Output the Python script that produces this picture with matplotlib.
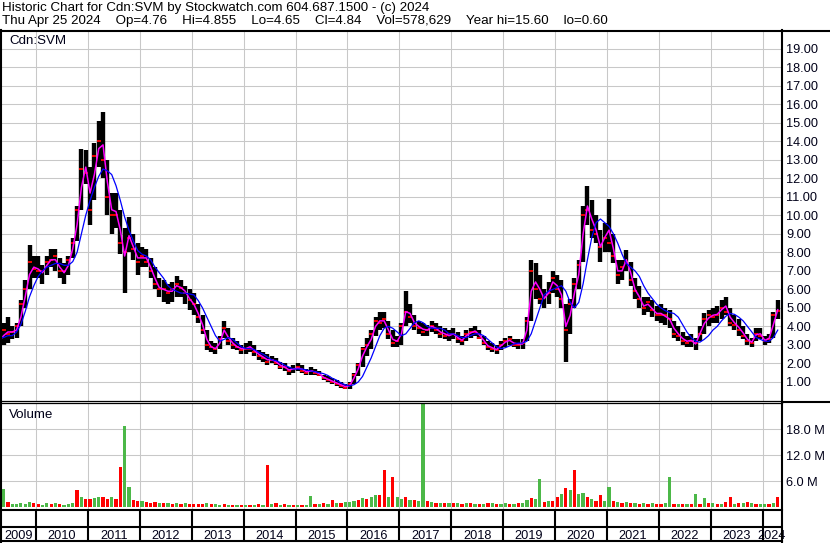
import matplotlib
matplotlib.use('Agg')
import matplotlib.pyplot as plt
import numpy as np

W, H, DPI = 830, 543, 100
plt.rcParams['font.family'] = ['Liberation Sans', 'DejaVu Sans']
TXT = '#000018'
FS = 9.2
FS_HEAD = 9.65

header1 = "Historic Chart for Cdn:SVM by Stockwatch.com 604.687.1500 - (c) 2024"
header2 = ("Thu Apr 25 2024    Op=4.76    Hi=4.855    Lo=4.65    Cl=4.84    "
           "Vol=578,629    Year hi=15.60    lo=0.60")
symbol = "Cdn:SVM"
vol_title = "Volume"

first_year, first_month = 2009, 4          # monthly bars from April 2009
years = list(range(2009, 2025))
price_ticks = list(range(1, 20))
vol_ticks = [6, 12, 18]                    # millions

low = [
    2.7, 3.0, 3.1, 3.3, 3.4, 4.0, 5.0, 6.0, 6.6,                       # 2009
    6.6, 6.3, 6.8, 7.2, 7.0, 6.6, 6.3, 6.8, 7.7, 8.6, 10.3, 11.7,      # 2010
    9.5, 10.8, 12.6, 12.0, 10.0, 9.0, 9.3, 7.9, 5.8, 8.0, 7.6, 6.8,    # 2011
    7.2, 7.2, 6.6, 6.0, 5.6, 5.3, 5.2, 5.3, 5.6, 5.6, 5.2, 4.9,        # 2012
    4.6, 4.2, 3.6, 2.7, 2.6, 2.5, 2.8, 3.4, 3.0, 2.8, 2.7, 2.5,        # 2013
    2.5, 2.6, 2.4, 2.2, 2.1, 1.9, 2.0, 1.9, 1.7, 1.6, 1.4, 1.5,        # 2014
    1.6, 1.5, 1.4, 1.4, 1.4, 1.3, 1.1, 1.0, 0.9, 0.8, 0.7, 0.6,        # 2015
    0.6, 0.9, 1.3, 1.8, 2.4, 2.8, 3.5, 3.8, 3.9, 3.3, 2.9, 2.9,        # 2016
    3.0, 4.0, 4.2, 3.8, 3.6, 3.5, 3.5, 3.7, 3.6, 3.4, 3.3, 3.2,        # 2017
    3.3, 3.1, 3.0, 3.2, 3.4, 3.5, 3.3, 3.0, 2.7, 2.6, 2.5, 2.7,        # 2018
    2.9, 3.0, 2.9, 2.8, 2.8, 3.2, 4.3, 5.5, 5.2, 5.0, 5.2, 5.8,        # 2019
    5.6, 5.0, 2.1, 3.6, 5.0, 6.0, 7.5, 9.5, 8.8, 8.5, 7.5, 8.0,        # 2020
    8.0, 7.4, 6.3, 6.5, 7.0, 6.2, 5.5, 5.0, 4.6, 4.8, 4.5, 4.3,        # 2021
    4.2, 4.1, 3.9, 3.4, 3.2, 3.0, 2.9, 2.9, 2.7, 3.2, 3.6, 4.0,        # 2022
    4.2, 4.2, 4.4, 4.6, 4.0, 3.8, 3.5, 3.3, 3.0, 2.9, 3.2, 3.3,        # 2023
    3.0, 3.1, 3.4, 4.4,                                                # 2024
]
high = [
    3.5, 4.2, 4.5, 4.0, 4.2, 5.4, 6.5, 8.4, 7.8,
    7.8, 7.3, 7.8, 8.2, 8.2, 7.7, 7.4, 7.8, 8.8, 10.5, 13.6, 13.5,
    12.6, 13.9, 15.1, 15.6, 13.0, 11.2, 11.2, 10.3, 9.3, 9.9, 9.0, 8.5,
    8.3, 8.2, 7.7, 7.2, 6.6, 6.5, 6.3, 6.4, 6.7, 6.5, 6.2, 6.0,
    5.8, 5.2, 4.6, 3.8, 3.2, 3.1, 3.5, 4.3, 3.9, 3.4, 3.2, 3.0,
    3.1, 3.2, 3.0, 2.7, 2.6, 2.5, 2.4, 2.3, 2.1, 2.0, 1.8, 1.9,
    2.0, 1.9, 1.7, 1.8, 1.7, 1.6, 1.4, 1.3, 1.2, 1.1, 1.0, 0.9,
    1.0, 1.5, 2.0, 2.9, 3.4, 3.8, 4.5, 4.8, 4.8, 4.3, 3.8, 3.5,
    4.2, 5.9, 5.2, 4.6, 4.3, 4.2, 4.1, 4.3, 4.2, 4.0, 3.9, 3.8,
    3.9, 3.7, 3.5, 3.8, 3.9, 4.0, 3.8, 3.5, 3.2, 3.1, 3.0, 3.2,
    3.4, 3.5, 3.3, 3.3, 3.3, 4.5, 7.6, 7.4, 6.8, 6.0, 6.4, 7.0,
    6.8, 6.5, 5.2, 5.5, 6.6, 7.6, 10.5, 11.6, 10.8, 10.0, 9.2, 9.6,
    10.9, 9.0, 7.6, 7.6, 8.1, 7.5, 6.6, 6.2, 5.6, 5.6, 5.4, 5.1,
    5.2, 5.0, 4.9, 4.3, 4.0, 3.7, 3.5, 3.6, 3.4, 4.0, 4.7, 4.9,
    5.0, 5.1, 5.4, 5.6, 5.0, 4.6, 4.4, 4.0, 3.6, 3.4, 3.9, 3.9,
    3.5, 3.6, 4.8, 5.4,
]
close = [
    3.2, 3.8, 3.6, 3.7, 4.0, 5.2, 6.0, 7.5, 7.1,
    7.0, 7.0, 7.5, 7.6, 7.8, 7.0, 7.0, 7.6, 8.5, 10.3, 12.5, 12.3,
    10.3, 13.2, 14.0, 13.0, 11.0, 10.0, 10.0, 8.5, 8.0, 8.8, 8.2, 7.5,
    7.8, 7.5, 7.0, 6.3, 6.0, 6.0, 5.8, 6.0, 6.3, 6.1, 5.8, 5.4,
    5.2, 4.5, 3.8, 3.0, 2.9, 2.8, 3.3, 3.9, 3.2, 3.0, 2.9, 2.7,
    2.8, 2.8, 2.6, 2.4, 2.3, 2.1, 2.2, 2.0, 1.8, 1.8, 1.6, 1.7,
    1.8, 1.6, 1.5, 1.6, 1.5, 1.4, 1.2, 1.1, 1.0, 0.9, 0.8, 0.7,
    0.9, 1.4, 1.9, 2.8, 3.0, 3.6, 4.3, 4.2, 4.4, 3.6, 3.1, 3.2,
    4.0, 4.8, 4.5, 4.0, 3.9, 3.7, 3.8, 4.0, 3.8, 3.6, 3.5, 3.6,
    3.6, 3.3, 3.2, 3.6, 3.7, 3.7, 3.4, 3.1, 2.9, 2.8, 2.7, 3.0,
    3.2, 3.3, 3.0, 3.0, 3.1, 4.3, 7.0, 6.0, 5.5, 5.6, 5.8, 6.6,
    6.0, 5.5, 3.8, 5.2, 6.3, 7.3, 10.0, 10.3, 9.2, 9.0, 8.3, 8.8,
    8.5, 7.8, 6.8, 7.2, 7.5, 6.5, 5.9, 5.5, 5.0, 5.3, 4.9, 4.6,
    4.6, 4.6, 4.4, 3.6, 3.5, 3.2, 3.1, 3.2, 3.1, 3.6, 4.4, 4.6,
    4.5, 4.6, 5.0, 4.8, 4.2, 4.1, 3.8, 3.5, 3.2, 3.1, 3.6, 3.5,
    3.2, 3.3, 4.6, 4.84,
]
ma_fast = [
    3.2, 3.5, 3.7, 3.7, 3.8, 4.5, 5.6, 6.8, 7.2,
    7.1, 6.9, 7.3, 7.6, 7.6, 7.2, 6.9, 7.3, 8.2, 9.5, 11.5, 12.6,
    11.2, 12.2, 13.6, 13.8, 11.8, 10.3, 10.2, 9.2, 7.8, 8.9, 8.3, 7.7,
    7.7, 7.7, 7.2, 6.6, 6.1, 6.0, 5.9, 5.9, 6.2, 6.1, 5.9, 5.5,
    5.2, 4.7, 4.1, 3.3, 2.9, 2.8, 3.1, 3.8, 3.4, 3.1, 2.9, 2.8,
    2.8, 2.9, 2.7, 2.5, 2.35, 2.2, 2.2, 2.1, 1.9, 1.8, 1.65, 1.7,
    1.75, 1.7, 1.55, 1.6, 1.55, 1.45, 1.25, 1.15, 1.05, 0.95, 0.85, 0.75,
    0.8, 1.2, 1.7, 2.4, 2.9, 3.3, 4.0, 4.3, 4.3, 3.8, 3.3, 3.2,
    3.6, 4.8, 4.7, 4.2, 4.0, 3.85, 3.8, 4.0, 3.9, 3.7, 3.6, 3.5,
    3.6, 3.4, 3.25, 3.5, 3.65, 3.75, 3.55, 3.25, 2.95, 2.85, 2.75, 2.95,
    3.15, 3.25, 3.1, 3.05, 3.05, 3.8, 5.9, 6.4, 6.0, 5.5, 5.8, 6.4,
    6.2, 5.7, 4.0, 4.6, 5.8, 6.8, 9.0, 10.5, 9.8, 9.2, 8.3, 8.8,
    9.2, 8.2, 7.0, 7.0, 7.6, 6.9, 6.0, 5.6, 5.1, 5.2, 4.95, 4.7,
    4.7, 4.55, 4.4, 3.9, 3.6, 3.35, 3.2, 3.25, 3.05, 3.6, 4.15, 4.45,
    4.6, 4.65, 4.9, 5.1, 4.5, 4.2, 3.95, 3.65, 3.3, 3.15, 3.55, 3.6,
    3.25, 3.35, 4.1, 4.9,
]
ma_slow = [
    3.4, 3.4, 3.5, 3.5, 3.7, 4.1, 4.8, 5.6, 6.2,
    6.7, 7.0, 7.2, 7.3, 7.4, 7.4, 7.3, 7.3, 7.5, 8.0, 9.0, 10.0,
    10.8, 11.5, 12.1, 12.5, 12.4, 12.2, 11.6, 10.8, 9.9, 9.2, 8.6, 8.1,
    7.9, 7.8, 7.6, 7.2, 6.9, 6.6, 6.2, 6.0, 5.9, 5.8, 5.8, 5.75,
    5.7, 5.4, 5.0, 4.5, 4.0, 3.5, 3.2, 3.3, 3.4, 3.3, 3.1, 2.9,
    2.8, 2.8, 2.75, 2.6, 2.5, 2.35, 2.2, 2.15, 2.05, 1.9, 1.8, 1.7,
    1.7, 1.7, 1.65, 1.6, 1.55, 1.5, 1.45, 1.35, 1.2, 1.1, 0.95, 0.85,
    0.8, 0.85, 1.0, 1.3, 1.8, 2.3, 2.9, 3.5, 3.9, 4.0, 3.9, 3.7,
    3.5, 3.6, 3.9, 4.2, 4.3, 4.2, 4.0, 3.9, 3.9, 3.9, 3.8, 3.6,
    3.6, 3.5, 3.4, 3.4, 3.5, 3.6, 3.6, 3.5, 3.3, 3.1, 2.9, 2.8,
    2.85, 2.95, 3.05, 3.1, 3.1, 3.2, 3.6, 4.3, 5.0, 5.7, 5.9, 6.0,
    6.1, 6.2, 5.9, 5.3, 5.0, 5.3, 6.3, 7.6, 8.8, 9.6, 9.8, 9.6,
    9.4, 9.0, 8.5, 7.9, 7.4, 7.2, 7.0, 6.7, 6.2, 5.8, 5.5, 5.2,
    5.0, 4.85, 4.75, 4.7, 4.5, 4.1, 3.7, 3.4, 3.2, 3.15, 3.3, 3.5,
    3.8, 4.0, 4.3, 4.55, 4.7, 4.65, 4.5, 4.3, 4.0, 3.7, 3.4, 3.3,
    3.2, 3.2, 3.4, 3.8,
]
volume = [   # millions of shares
    1.0, 4.3, 1.2, 0.8, 0.7, 0.9, 0.8, 1.3, 0.9,
    0.8, 0.6, 0.9, 0.8, 1.0, 0.7, 0.6, 0.8, 1.0, 3.9, 2.3, 2.0,
    2.0, 2.2, 2.5, 2.3, 2.0, 2.5, 2.0, 9.4, 18.8, 4.8, 1.8, 1.5,
    1.5, 1.2, 1.1, 1.2, 1.0, 1.1, 0.9, 0.8, 1.0, 0.8, 0.9, 0.8,
    0.7, 0.8, 0.7, 1.0, 0.8, 0.7, 0.6, 0.7, 0.6, 0.6, 0.5, 0.5,
    0.5, 0.6, 0.5, 0.8, 0.6, 9.8, 0.7, 1.0, 0.6, 0.7, 0.6, 0.5,
    0.6, 0.5, 0.6, 2.7, 0.8, 0.7, 0.9, 0.8, 1.6, 1.0, 1.0, 1.2,
    1.3, 1.5, 1.8, 2.2, 2.0, 2.5, 2.8, 2.8, 8.5, 2.4, 7.1, 2.5,
    2.0, 2.5, 1.8, 1.6, 1.5, 24.5, 1.5, 1.2, 1.0, 1.0, 0.9, 1.0,
    1.0, 0.9, 0.8, 1.0, 0.9, 0.8, 0.8, 0.8, 0.9, 1.0, 0.8, 0.8,
    0.9, 0.8, 0.8, 0.9, 1.0, 1.6, 2.2, 2.0, 6.6, 1.2, 1.4, 1.5,
    2.5, 3.0, 4.5, 4.0, 8.5, 3.0, 3.2, 2.5, 2.0, 1.5, 2.8, 1.5,
    4.6, 1.5, 1.2, 1.0, 1.2, 1.0, 0.9, 0.8, 0.9, 0.8, 0.9, 0.8,
    0.8, 1.0, 6.9, 0.8, 0.7, 0.7, 0.7, 0.8, 3.0, 0.8, 2.1, 0.9,
    0.9, 0.7, 0.8, 1.2, 2.3, 0.8, 1.0, 0.9, 1.3, 0.9, 0.8, 0.8,
    0.7, 0.8, 1.0, 2.3,
]
vol_dir = ("RGRGGGGGR" "RGGRGRGGGRGR" "RGGRRGRRGGRR" "GRRRGRGRGRGR" "RRRGRGGRGRGR"
           "GRGRGRGRGRGR" "GRGGRGRGRGRG" "GGRGRGGRRGRG" "GRGRGGRGRGRG" "RGRGRGRGRGRG"
           "GRGRGGRGGRGR" "RGRGRGGRGRRG" "GRGRGRGRGRGR" "RGGRGRGRGRGR" "GRGRRGRGRGRG" "GRGR")

n = len(close)
t = np.array([first_year + (first_month - 1 + i + 0.5) / 12.0 for i in range(n)])

fig = plt.figure(figsize=(W / DPI, H / DPI), dpi=DPI)
fig.patch.set_facecolor('white')

def box(left, top, right, bottom):
    return [left / W, 1 - bottom / H, (right - left) / W, (bottom - top) / H]

ax_p = fig.add_axes(box(1, 31, 781.5, 400.5))
ax_v = fig.add_axes(box(1, 403, 781.5, 509.5), sharex=ax_p)
ax_y = fig.add_axes(box(1, 509.5, 781.5, 541), sharex=ax_p)

# x scale: year boundary at px 36 for 2010, 51.9 px per year
t0 = 2010 + (1 - 36) / 51.9
t1 = 2010 + (781.5 - 36) / 51.9
GRID = '#c8c8c8'

for ax in (ax_p, ax_v, ax_y):
    for s in ax.spines.values():
        s.set_visible(False)
    ax.set_xticks(years[1:])
    ax.tick_params(axis='x', length=0, labelbottom=False)
ax_p.set_xlim(t0, t1)

# price panel
ax_p.set_axisbelow(True)
ax_p.grid(True, color=GRID, lw=0.75)
ax_p.vlines(t, low, high, color='black', lw=3.15, zorder=2)
ax_p.plot(t, close, ls='none', marker='_', color='red', ms=3.0, mew=1.3, zorder=3)
ax_p.plot(t, ma_fast, color='#ff00ff', lw=1.1, zorder=4)
ax_p.plot(t, ma_slow, color='#0000ff', lw=0.9, zorder=5)
ax_p.set_ylim(0, 19.95)
ax_p.set_yticks(price_ticks)
ax_p.set_yticklabels([f"{v:.2f}" for v in price_ticks])
ax_p.yaxis.tick_right()
ax_p.tick_params(axis='y', length=0, pad=3.5, labelsize=FS, labelcolor=TXT)
ax_p.text(0.0105, 1 - 13.5 / 369.5, symbol, transform=ax_p.transAxes, fontsize=FS_HEAD,
          color=TXT, va='baseline', ha='left')

# volume panel
ax_v.set_axisbelow(True)
ax_v.grid(True, color=GRID, lw=0.75)
cols = ['#4cb848' if d == 'G' else '#ff0000' for d in vol_dir]
ax_v.bar(t, volume, width=0.75 / 12, color=cols, linewidth=0, zorder=2)
ax_v.set_ylim(-0.48, 24.0)
ax_v.set_yticks(vol_ticks)
ax_v.set_yticklabels([f"{v:.1f} M" for v in vol_ticks])
ax_v.yaxis.tick_right()
ax_v.tick_params(axis='y', length=0, pad=3.5, labelsize=FS, labelcolor=TXT)
ax_v.text(0.0105, 1 - 15 / 106.5, vol_title, transform=ax_v.transAxes, fontsize=FS_HEAD,
          color=TXT, va='baseline', ha='left')

# year row
ax_y.set_ylim(0, 1)
ax_y.set_yticks([])
for y in years[1:]:
    ax_y.axvline(y, color='black', lw=1.5)
ax_y.axhline(0.44, color='black', lw=1.5)
for y in years:
    a, b = max(y, t0), min(y + 1, t1)
    ax_y.text((a + b) / 2, 0.07, str(y), ha='center', va='baseline', fontsize=FS,
              color=TXT, clip_on=False)

# frame lines (pixel overlay)
ov = fig.add_axes([0, 0, 1, 1], zorder=10)
ov.set_xlim(0, W)
ov.set_ylim(H, 0)
ov.axis('off')
LW2 = 1.5
ov.plot([0, W], [30.5, 30.5], color='black', lw=LW2)
ov.plot([781.5, 781.5], [30, 542], color='black', lw=LW2)
ov.plot([0.8, 0.8], [30, 542], color='black', lw=LW2)
ov.plot([0, 781.5], [400.7, 400.7], color='black', lw=0.9)
ov.plot([0, 781.5], [403.2, 403.2], color='black', lw=0.9)
ov.plot([781.5, W], [401.5, 401.5], color='black', lw=LW2)
ov.plot([0, 781.5], [509.8, 509.8], color='black', lw=LW2)
ov.plot([0, 781.5], [541, 541], color='black', lw=LW2)

ov.text(2, 11.2, header1, fontsize=FS_HEAD, color='black', va='baseline', ha='left')
ov.text(2, 24.2, header2, fontsize=FS_HEAD, color='black', va='baseline', ha='left')

fig.savefig('out.png', dpi=DPI, facecolor='white')
